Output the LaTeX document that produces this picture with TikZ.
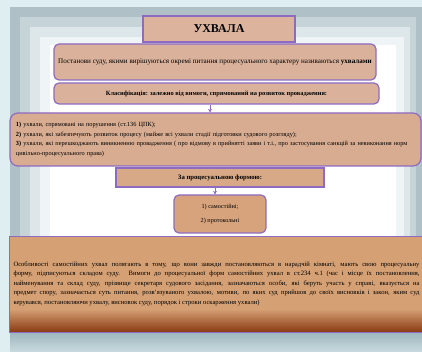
\documentclass[tikz,border=0pt]{standalone}
\usepackage{fontspec}
\setmainfont{Liberation Serif}
\usetikzlibrary{arrows.meta}
\definecolor{outerbg}{HTML}{DFEEF1}
\definecolor{band1}{HTML}{AFC1C6}
\definecolor{band2}{HTML}{C6D4D8}
\definecolor{band3}{HTML}{DDE6E9}
\definecolor{band4}{HTML}{EFF4F6}
\definecolor{boxline}{HTML}{8E6BC0}
\definecolor{titlefill}{HTML}{DCB39D}
\definecolor{deffill}{HTML}{DAB29B}
\definecolor{listfill}{HTML}{D8AC90}
\definecolor{formfill}{HTML}{D7A986}
\definecolor{smallfill}{HTML}{D6A37C}
\definecolor{botfill}{HTML}{D5A074}
\definecolor{botdark}{HTML}{8A3A12}
\definecolor{stripa}{HTML}{9DB5BC}
\definecolor{stripb}{HTML}{CADBE0}
\begin{document}
\begin{tikzpicture}[x=1pt,y=-1pt,
  bx/.style={draw=boxline, line width=1.2pt, inner sep=0pt, align=center},
  rbx/.style={bx, rounded corners=5pt},
  arr/.style={draw=boxline, line width=1pt, -{Stealth[length=3.5pt,width=4pt]}}]
\useasboundingbox (0,0) rectangle (422,352);
% background
\fill[outerbg] (0,0) rectangle (422,352);
\fill[band1] (10,7) rectangle (422,352);
\fill[band2] (20,17) rectangle (416,352);
\fill[band3] (30,27) rectangle (410,352);
\fill[band4] (40,37) rectangle (404,352);
\fill[white] (50,45) rectangle (396,352);
\shade[top color=stripa, bottom color=stripb] (10,332) rectangle (422,352);
% boxes
\node[bx, fill=titlefill, minimum width=152pt, minimum height=26pt,
  font=\fontsize{12}{14}\selectfont\bfseries] (title) at (219,29) {УХВАЛА};
\node[rbx, fill=deffill, minimum width=322pt, minimum height=36pt,
  font=\fontsize{7.1}{8}\selectfont] (def) at (215,62)
  {Постанови суду, якими вирішуються окремі питання процесуального характеру називаються \textbf{ухвалами}};
\node[rbx, fill=deffill, minimum width=325pt, minimum height=21pt,
  font=\fontsize{6.4}{7}\selectfont\bfseries] (cls) at (216.5,93.5)
  {Класифікація: залежно від вимоги, спрямований на розвиток провадження:};
\node[rbx, rounded corners=8pt, fill=listfill, minimum width=411pt, minimum height=53pt,
  text width=399pt, align=left, font=\fontsize{6.3}{9.7}\selectfont] (list) at (215.5,139.5)
  {\textbf{1)} ухвали, спрямовані на порушення (ст.136 ЦПК);\\
   \textbf{2)} ухвали, які забезпечують розвиток процесу (майже всі ухвали стадії підготовки судового розгляду);\\
   \textbf{3)} ухвали, які перешкоджають виникненню провадження ( про відмову в прийнятті заяви і т.і., про застосування санкцій за невиконання норм\\
   цивільно-процесуального права)};
\node[bx, fill=formfill, minimum width=208pt, minimum height=19pt,
  font=\fontsize{6.7}{8}\selectfont\bfseries] (forma) at (220,177.5) {За процесуальною формою:};
\node[rbx, fill=smallfill, minimum width=92pt, minimum height=38pt,
  font=\fontsize{6.2}{14}\selectfont] (kinds) at (220,214) {1) самостійні;\\2) протокольні};
\node[fill=botfill, inner sep=0pt, minimum width=412pt, minimum height=95pt] (bot) at (216,284.5) {};
\shade[top color=botfill, bottom color=botdark] (10,309) rectangle (422,332);
\draw[boxline, line width=1.2pt] (bot.north west) rectangle (bot.south east);
\node[inner sep=0pt, text width=406pt, align=justify, font=\fontsize{6.6}{9.5}\selectfont] (bottxt) at (216.5,283.5)
  {Особливості самостійних ухвал полягають в тому, що вони завжди постановляються в нарадчій кімнаті, мають свою процесуальну\linebreak
   форму, підписуються складом суду. Вимоги до процесуальної форм самостійних ухвал в ст.234 ч.1 (час і місце їх постановлення,\linebreak
   найменування та склад суду, прізвище секретаря судового засідання, зазначаються особи, які беруть участь у справі, вказується на\linebreak
   предмет спору, зазначається суть питання, розв`язуваного ухвалою, мотиви, по яких суд прийшов до своїх висновків і закон, яким суд\linebreak
   керувався, постановляючи ухвалу, висновок суду, порядок і строки оскарження ухвали)};
% connectors
\draw[arr] ([xshift=-6.5pt]cls.south) -- ([xshift=-5.5pt]list.north);
\draw[arr] ([xshift=-5pt]forma.south) -- ([xshift=-5pt]kinds.north);
\end{tikzpicture}
\end{document}
